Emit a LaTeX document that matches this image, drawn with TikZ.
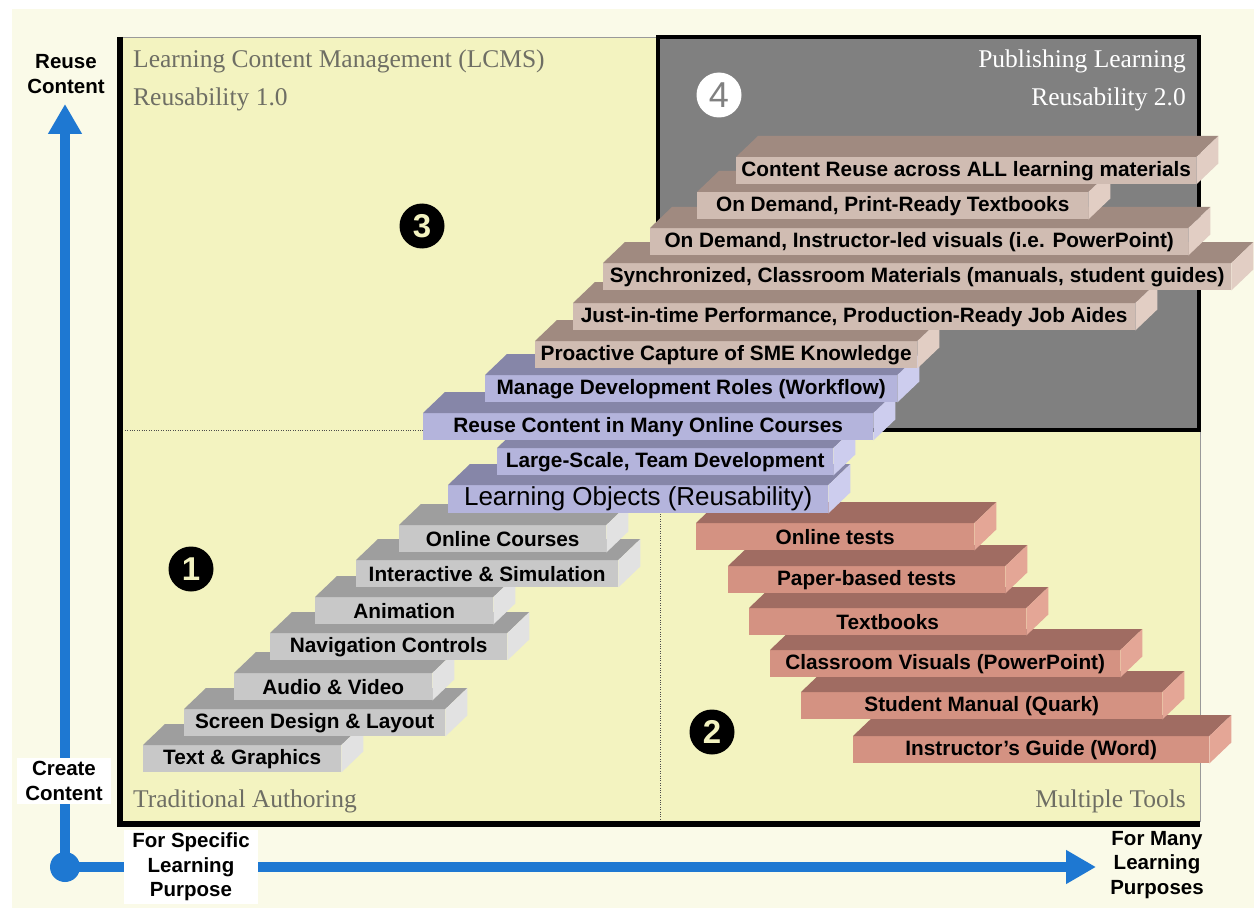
\documentclass[tikz,border=0pt]{standalone}
\usepackage{fontspec}
\setmainfont{Liberation Serif}
\setsansfont{Liberation Sans}
\usepackage{tikz}
\usetikzlibrary{calc}
\usetikzlibrary{positioning}
\usetikzlibrary{arrows.meta}

\definecolor{creambg}{RGB}{250,250,232}
\definecolor{panelbg}{RGB}{243,243,192}
\definecolor{boxgray}{RGB}{128,128,128}
\definecolor{axisblue}{RGB}{30,120,210}
\definecolor{labelgray}{RGB}{110,110,100}
\definecolor{greyfront}{RGB}{200,200,200}
\definecolor{greytop}{RGB}{158,158,158}
\definecolor{greyside}{RGB}{226,226,226}
\definecolor{lilacfront}{RGB}{180,180,220}
\definecolor{lilactop}{RGB}{134,134,168}
\definecolor{lilacside}{RGB}{205,205,238}
\definecolor{tanfront}{RGB}{208,188,178}
\definecolor{tantop}{RGB}{160,138,128}
\definecolor{tanside}{RGB}{226,206,196}
\definecolor{rosefront}{RGB}{212,146,130}
\definecolor{rosetop}{RGB}{160,108,98}
\definecolor{roseside}{RGB}{228,166,150}

% one step: [extra options]{name}{x,y of front top left}{width}{palette}{text}
\newcommand{\stair}[6][]{%
  \node[stairbox, fill=#5front, minimum width=#4, #1] (#2) at (#3) {#6};
  \fill[#5top] (#2.north west) -- ++(22,-21) -- ([shift={(22,-21)}]#2.north east) -- (#2.north east) -- cycle;
  \fill[#5side] (#2.north east) -- ++(22,-21) -- ([shift={(22,-21)}]#2.south east) -- (#2.south east) -- cycle;
}

\begin{document}
\begin{tikzpicture}[x=1pt, y=-1pt,
    stairbox/.style={anchor=north west, inner sep=0pt, minimum height=27, text=black,
      font=\sffamily\bfseries\fontsize{20.8}{22}\selectfont},
    quadlabel/.style={inner sep=0pt, text=labelgray, font=\fontsize{25.5}{27}\selectfont},
    numdot/.style={circle, fill=black, text=panelbg, minimum size=45, inner sep=0pt,
      font=\sffamily\bfseries\fontsize{33}{33}\selectfont},
    axislabel/.style={align=center, inner xsep=8pt, inner ysep=3pt,
      font=\sffamily\bfseries\fontsize{20.5}{24.5}\selectfont},
    axis/.style={line width=10pt, draw=axisblue, -{Triangle[width=32pt,length=30pt]}}]
				\useasboundingbox (0,0) rectangle (1254,915);
				\fill[creambg] (12,9) rectangle (1254,908);
				
				% quadrants
				\fill[panelbg] (120,37) rectangle (1200,822);
				\draw[gray!80, thin] (120,37) -- (1200,37) -- (1200,822);
				\draw[dotted, gray!60!black] (120,430) -- (658,430);
				\draw[dotted, gray!60!black] (660,430) -- (660,822);
				\draw[line width=3.5pt, fill=boxgray] (658,37) rectangle (1199,430);
				\draw[line width=5.5pt] (120,37) -- (120,824) -- (1200,824);
				
				\node[quadlabel, anchor=west] (lcms) at (133,61) {Learning Content Management (LCMS)};
				\node[quadlabel, anchor=west] (reuseone) at (133,99) {Reusability 1.0};
				\node[quadlabel, anchor=east, text=white] (publish) at (1186,61) {Publishing Learning};
				\node[quadlabel, anchor=east, text=white] (reusetwo) at (1186,99) {Reusability 2.0};
				\node[quadlabel, anchor=west] (authoring) at (133,801) {Traditional Authoring};
				\node[quadlabel, anchor=east] (tools) at (1186,801) {Multiple Tools};
				
				\node[numdot] (q1) at (191,569) {1};
				\node[numdot] (q2) at (712,732) {2};
				\node[numdot] (q3) at (422,226) {3};
				\node[numdot, fill=white, text=boxgray, font=\sffamily\fontsize{36}{36}\selectfont] (q4) at (719,95) {4};
				
				% steps, lowest first
				\stair{textgraphics}{143,745}{198}{grey}{Text \& Graphics}
				\stair{guide}{853,736}{356}{rose}{Instructor's Guide (Word)}
				\stair{screen}{184,709}{261}{grey}{Screen Design \& Layout}
				\stair{manual}{801,692}{361}{rose}{Student Manual (Quark)}
				\stair{audio}{234,673}{198}{grey}{Audio \& Video}
				\stair{visuals}{770,650}{350}{rose}{Classroom Visuals (PowerPoint)}
				\stair{navigation}{270,633}{237}{grey}{Navigation Controls}
				\stair{textbooks}{749,608}{277}{rose}{Textbooks}
				\stair{animation}{315,597}{178}{grey}{Animation}
				\stair{paper}{728,566}{277}{rose}{Paper-based tests}
				\stair{interactive}{356,560}{262}{grey}{Interactive \& Simulation}
				\stair{courses}{399,525}{207}{grey}{Online Courses}
				\stair{tests}{696,523}{278}{rose}{Online tests}
				\stair[minimum height=28, font=\sffamily\fontsize{26}{28}\selectfont]{objects}{448,485}{380}{lilac}{Learning Objects (Reusability)}
				\stair{team}{497,448}{336}{lilac}{Large-Scale, Team Development}
				\stair{manycourses}{423,413}{450}{lilac}{Reuse Content in Many Online Courses}
				\stair{roles}{485,375}{412}{lilac}{Manage Development Roles (Workflow)}
				\stair{capture}{535,341}{382}{tan}{Proactive Capture of SME Knowledge}
				\stair{jobaides}{573,303}{562}{tan}{Just-in-time Performance, Production-Ready Job Aides}
				\stair{classroom}{603,263}{628}{tan}{Synchronized, Classroom Materials (manuals, student guides)}
				\stair{ondemand}{650,228}{538}{tan}{On Demand, Instructor-led visuals (i.e. PowerPoint)}
				\stair{printready}{697,192}{391}{tan}{On Demand, Print-Ready Textbooks}
				\stair{allmaterials}{736,157}{460}{tan}{Content Reuse across ALL learning materials}
				
				% axes
				\node[circle, fill=axisblue, minimum size=30, inner sep=0pt] (origin) at (65,867) {};
				\coordinate (ytip) at (65,104);
				\coordinate (xtip) at (1096,867);
				\draw[axis] (origin.center) -- (ytip);
				\draw[axis] (origin.center) -- (xtip);
				\node[axislabel] (reuse) at (66,74) {Reuse\\Content};
				\node[axislabel, fill=white] (create) at (64,781) {Create\\Content};
				\node[axislabel, fill=white] (specific) at (191,867) {For Specific\\Learning\\Purpose};
				\node[axislabel] (many) at (1157,865) {For Many\\Learning\\Purposes};
			\end{tikzpicture}
\end{document}
